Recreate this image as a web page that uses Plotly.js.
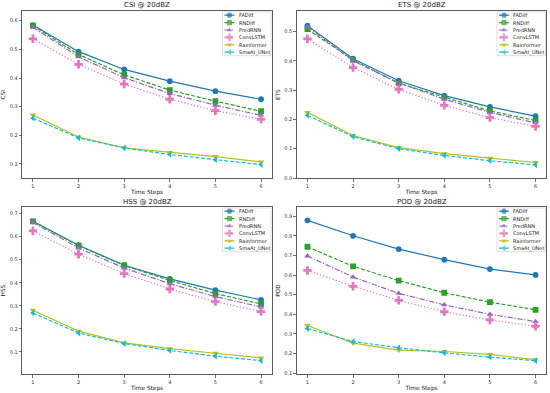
<!DOCTYPE html>
<html><head><meta charset="utf-8">
<script src="https://cdn.plot.ly/plotly-3.0.1.min.js"></script>
<style>html,body{margin:0;padding:0;background:#fff}#chart{width:550px;height:393px}</style>
</head><body><div id="chart"></div>
<script>
const steps = [1, 2, 3, 4, 5, 6];
const models = ['FADiff', 'RNDiff', 'PredRNN', 'ConvLSTM', 'Rainformer', 'SmaAt_UNet'];

const csi_FADiff     = [0.585, 0.492, 0.430, 0.389, 0.354, 0.326];
const csi_RNDiff     = [0.583, 0.482, 0.411, 0.358, 0.319, 0.284];
const csi_PredRNN    = [0.577, 0.474, 0.401, 0.346, 0.305, 0.270];
const csi_ConvLSTM   = [0.537, 0.448, 0.379, 0.326, 0.286, 0.256];
const csi_Rainformer = [0.271, 0.194, 0.156, 0.140, 0.126, 0.107];
const csi_SmaAt      = [0.260, 0.191, 0.156, 0.133, 0.115, 0.098];

const ets_FADiff     = [0.520, 0.407, 0.332, 0.281, 0.243, 0.211];
const ets_RNDiff     = [0.508, 0.403, 0.323, 0.275, 0.229, 0.196];
const ets_PredRNN    = [0.516, 0.400, 0.325, 0.269, 0.224, 0.188];
const ets_ConvLSTM   = [0.475, 0.377, 0.303, 0.248, 0.206, 0.176];
const ets_Rainformer = [0.224, 0.145, 0.104, 0.083, 0.068, 0.053];
const ets_SmaAt      = [0.214, 0.141, 0.100, 0.077, 0.059, 0.045];

const hss_FADiff     = [0.667, 0.563, 0.476, 0.417, 0.368, 0.326];
const hss_RNDiff     = [0.667, 0.561, 0.475, 0.410, 0.353, 0.308];
const hss_PredRNN    = [0.662, 0.551, 0.464, 0.396, 0.340, 0.295];
const hss_ConvLSTM   = [0.625, 0.524, 0.440, 0.373, 0.318, 0.275];
const hss_Rainformer = [0.281, 0.190, 0.139, 0.114, 0.094, 0.074];
const hss_SmaAt      = [0.269, 0.182, 0.136, 0.106, 0.081, 0.062];

const pod_FADiff     = [0.880, 0.801, 0.733, 0.679, 0.631, 0.601];
const pod_RNDiff     = [0.745, 0.645, 0.572, 0.510, 0.462, 0.423];
const pod_PredRNN    = [0.698, 0.590, 0.507, 0.448, 0.400, 0.363];
const pod_ConvLSTM   = [0.624, 0.543, 0.471, 0.413, 0.371, 0.339];
const pod_Rainformer = [0.343, 0.253, 0.217, 0.210, 0.195, 0.168];
const pod_SmaAt      = [0.327, 0.261, 0.229, 0.203, 0.181, 0.163];

const panelTitles = ['CSI @ 20dBZ', 'ETS @ 20dBZ', 'HSS @ 20dBZ', 'POD @ 20dBZ'];
const panelYLabels = ['CSI', 'ETS', 'HSS', 'POD'];
const panelSeries = [
  [csi_FADiff, csi_RNDiff, csi_PredRNN, csi_ConvLSTM, csi_Rainformer, csi_SmaAt],
  [ets_FADiff, ets_RNDiff, ets_PredRNN, ets_ConvLSTM, ets_Rainformer, ets_SmaAt],
  [hss_FADiff, hss_RNDiff, hss_PredRNN, hss_ConvLSTM, hss_Rainformer, hss_SmaAt],
  [pod_FADiff, pod_RNDiff, pod_PredRNN, pod_ConvLSTM, pod_Rainformer, pod_SmaAt]
];

// styles
const colors = ['#1f77b4', '#2ca02c', '#9467bd', '#e377c2', '#bcbd22', '#17becf'];
const dashes = ['solid', '4px,1.8px', '5.5px,1.6px,1.3px,1.6px', '1.3px,2px', 'solid', '4px,1.8px'];
const symbols = ['circle', 'square', 'triangle-up', 'cross', 'triangle-down', 'triangle-left'];
const markerSizes = [5.8, 5.8, 5.8, 7, 5.8, 5.8];
const yRanges = [[0.05, 0.634], [-0.001, 0.570], [0.003, 0.729], [0.094, 0.948]];

const W = 550, H = 393;
const colL = [22, 296.5], colR = [272, 546.5];
const rowT = [11, 207], rowB = [178.3, 374.2];
const FONT = 'DejaVu Sans, Liberation Sans, sans-serif';

const traces = [];
const layout = {
  width: W, height: H, margin: {l: 0, r: 0, t: 0, b: 0},
  paper_bgcolor: '#fff', plot_bgcolor: 'rgba(0,0,0,0)',
  showlegend: false, font: {family: FONT, color: '#222'},
  annotations: [], shapes: []
};

for (let p = 0; p < 4; p++) {
  const c = p % 2, r = Math.floor(p / 2);
  const L = colL[c], R = colR[c], T = rowT[r], B = rowB[r];
  const xs = p === 0 ? '' : String(p + 1);
  const ax = 'x' + xs, ay = 'y' + xs;
  layout['xaxis' + xs] = {
    domain: [L / W, R / W], anchor: ay, range: [0.76, 6.24],
    tickvals: steps, ticktext: steps.map(String),
    ticks: 'outside', ticklen: 2.5, tickwidth: 0.7, tickcolor: '#333',
    tickfont: {size: 5, family: FONT, color: '#333'},
    showline: true, linecolor: '#333', linewidth: 0.8, mirror: true,
    showgrid: false, zeroline: false,
    title: {text: 'Time Steps', font: {size: 5.8, family: FONT, color: '#222'}, standoff: 2}
  };
  layout['yaxis' + xs] = {
    domain: [1 - B / H, 1 - T / H], anchor: ax, range: yRanges[p],
    dtick: 0.1, tick0: 0, tickformat: '.1f',
    ticks: 'outside', ticklen: 2.5, tickwidth: 0.7, tickcolor: '#333',
    tickfont: {size: 5, family: FONT, color: '#333'},
    showline: true, linecolor: '#333', linewidth: 0.8, mirror: true,
    showgrid: false, zeroline: false,
    title: {text: panelYLabels[p], font: {size: 5.8, family: FONT, color: '#222'}, standoff: 3}
  };
  layout.annotations.push({
    text: panelTitles[p], xref: 'paper', yref: 'paper',
    x: (L + R) / 2 / W, y: 1 - T / H, xanchor: 'center', yanchor: 'bottom',
    showarrow: false, font: {size: 7, family: FONT, color: '#222'}, borderpad: 0, yshift: 0.5
  });
  for (let m = 0; m < models.length; m++) {
    traces.push({
      type: 'scatter', mode: 'lines+markers', name: models[m],
      x: steps, y: panelSeries[p][m], xaxis: ax, yaxis: ay,
      line: {color: colors[m], width: 1.2, dash: dashes[m]},
      marker: {symbol: symbols[m], size: markerSizes[m], color: colors[m], line: {width: 0}}
    });
  }
  // legend box via its own small axis
  const lx = String(p + 5);
  const bL = R - 49.5, bR = R - 1, bT = T + 1, bB = T + 44.7;
  const lw = bR - bL, lh = bB - bT;
  layout['xaxis' + lx] = {domain: [bL / W, bR / W], anchor: 'y' + lx, range: [0, lw], visible: false, fixedrange: true};
  layout['yaxis' + lx] = {domain: [1 - bB / H, 1 - bT / H], anchor: 'x' + lx, range: [lh, 0], visible: false, fixedrange: true};
  layout.shapes.push({
    type: 'rect', xref: 'x' + lx + ' domain', yref: 'y' + lx + ' domain',
    x0: 0, x1: 1, y0: 0, y1: 1, layer: 'below',
    line: {color: '#d0d0d0', width: 0.7}, fillcolor: 'rgba(255,255,255,0.85)'
  });
  for (let m = 0; m < models.length; m++) {
    const rowY = 3.2 + m * 7.4;
    traces.push({
      type: 'scatter', mode: 'lines+markers', hoverinfo: 'skip', showlegend: false,
      x: [2, 7, 12], y: [rowY, rowY, rowY], xaxis: 'x' + lx, yaxis: 'y' + lx,
      line: {color: colors[m], width: 1.2, dash: dashes[m]},
      marker: {symbol: symbols[m], size: [0, markerSizes[m] - 0.6, 0], color: colors[m], line: {width: 0}}
    });
    layout.annotations.push({
      text: models[m], xref: 'x' + lx, yref: 'y' + lx, x: 15, y: rowY,
      xanchor: 'left', yanchor: 'middle', showarrow: false, borderpad: 0,
      font: {size: 5, family: FONT, color: '#222'}
    });
  }
}

Plotly.newPlot('chart', traces, layout, {staticPlot: true, displayModeBar: false});
</script>
</body></html>
